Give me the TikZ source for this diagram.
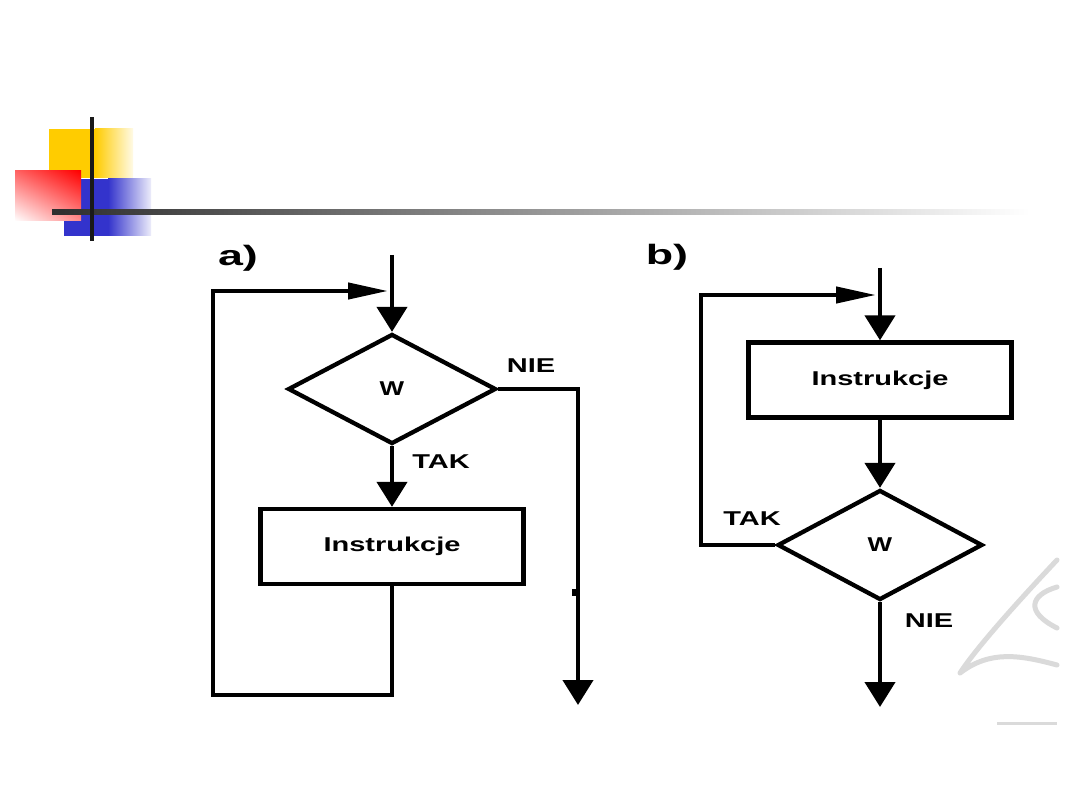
\documentclass[tikz,border=0pt]{standalone}
\usepackage{fontspec}
\setmainfont{Liberation Sans}
\usetikzlibrary{shapes.geometric,arrows.meta,shadings}
\definecolor{sqyellow}{RGB}{255,204,0}
\definecolor{sqyellowlight}{RGB}{255,250,230}
\definecolor{sqblue}{RGB}{51,51,204}
\definecolor{sqbluelight}{RGB}{236,236,250}
\definecolor{sqred}{RGB}{255,0,0}
\definecolor{sqredA}{RGB}{255,100,100}
\definecolor{sqredB}{RGB}{255,140,140}
\definecolor{wmgrey}{RGB}{218,218,218}
\newcommand\widetxt[2][1.45]{\scalebox{#1}[1]{\bfseries #2}}
\begin{document}
\begin{tikzpicture}[x=1pt,y=-1pt,
  flow/.style={line width=4.3pt,black},
  vtip/.style={-{Triangle[length=25pt,width=30pt]}},
  htip/.style={-{Triangle[length=40pt,width=16pt]}},
  decis/.style={draw,line width=4.3pt,diamond,inner sep=0pt,minimum width=208pt,minimum height=110pt,font=\fontsize{20}{22}\selectfont},
  instr/.style={draw,line width=4.3pt,rectangle,inner sep=0pt,minimum width=263pt,minimum height=75pt,font=\fontsize{20}{22}\selectfont},
  lbl/.style={inner sep=0pt,font=\fontsize{20}{22}\selectfont},
  head/.style={inner sep=0pt,font=\fontsize{28}{30}\selectfont},
  wmark/.style={line width=5pt,wmgrey,line cap=round,line join=round}]
\useasboundingbox (0,0) rectangle (1080,810);
\fill[white] (0,0) rectangle (1080,810);
% decoration squares
\fill[sqyellow] (49,129) rectangle (95.5,178);
\shade[left color=sqyellow,right color=sqyellowlight] (95,129) rectangle (133,178);
\fill[sqblue] (64,179) rectangle (108.5,236);
\shade[left color=sqblue,right color=sqbluelight] (108,179) rectangle (151,236);
\shade[upper right=sqred,upper left=sqredA,lower right=sqredB,lower left=white] (15,171) rectangle (81,221);
\shade[left color=black!82,right color=white] (52,209.5) rectangle (1030,214.5);
\fill[black!90] (90,117) rectangle (94,241);
% watermark
\draw[wmark] (1057,560) .. controls (1010,610) and (975,650) .. (960,673) .. controls (990,650) and (1020,655) .. (1057,665);
\draw[wmark] (1057,587) .. controls (1030,595) and (1025,612) .. (1057,628);
\draw[line width=3pt,wmgrey] (997,723) -- (1057,723);
% ---------- a)
\node[head] (la) at (238,258) {\widetxt[1.6]{a)}};
\node[decis] (d1) at (392,389) {\widetxt[1.3]{W}};
\node[instr] (b1) at (392,546.5) {\widetxt{Instrukcje}};
\coordinate (a0) at (392,255);
\coordinate (aj) at (388,291);
\coordinate (ae) at (578,705);
\draw[flow] (a0) -- (392,300);
\draw[flow,vtip] (392,291) -- (d1.north);
\draw[flow,vtip] (d1.south) -- (b1.north);
\draw[flow,htip] (b1.south) -- (392,695) -- (213,695) -- (213,291) -- (aj);
\draw[flow,vtip] (d1.east) -- (578,389) -- (ae);
\fill[black] (572,589) rectangle (576,596);
\node[lbl] (nie1) at (531,366) {\widetxt{NIE}};
\node[lbl] (tak1) at (441,462) {\widetxt{TAK}};
% ---------- b)
\node[head] (lb) at (667,257) {\widetxt[1.6]{b)}};
\node[instr] (b2) at (880,380) {\widetxt{Instrukcje}};
\node[decis,minimum width=205pt] (d2) at (880,545) {\widetxt[1.3]{W}};
\coordinate (b0) at (880,268);
\coordinate (bj) at (876,295);
\coordinate (be) at (880,707);
\draw[flow] (b0) -- (880,305);
\draw[flow,vtip] (880,295) -- (b2.north);
\draw[flow,vtip] (b2.south) -- (d2.north);
\draw[flow,htip] (d2.west) -- (701,545) -- (701,295) -- (bj);
\draw[flow,vtip] (d2.south) -- (be);
\node[lbl] (tak2) at (752,519) {\widetxt{TAK}};
\node[lbl] (nie2) at (929,621) {\widetxt{NIE}};
\end{tikzpicture}
\end{document}
